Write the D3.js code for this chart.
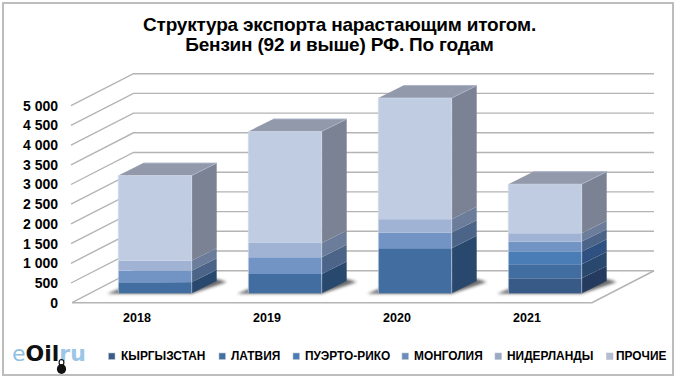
<!DOCTYPE html>
<html><head><meta charset="utf-8">
<script src="https://cdn.jsdelivr.net/npm/d3@7"></script>
<style>html,body{margin:0;padding:0;background:#fff}svg{display:block}text{font-family:"Liberation Sans",Arial,sans-serif}</style>
</head><body><svg id="c" width="680" height="384"></svg>
<script>
const titleLines = ["Структура экспорта нарастающим итогом.", "Бензин (92 и выше) РФ. По годам"];
const categories = ["2018", "2019", "2020", "2021"];
const seriesNames = ["КЫРГЫЗСТАН", "ЛАТВИЯ", "ПУЭРТО-РИКО", "МОНГОЛИЯ", "НИДЕРЛАНДЫ", "ПРОЧИЕ"];
const kyrgyzstan = [0, 0, 0, 381];
const latvia = [280, 490, 1144, 356];
const puertoRico = [0, 0, 0, 320];
const mongolia = [295, 425, 396, 255];
const netherlands = [255, 364, 341, 213];
const other = [2160, 2829, 3076, 1245];
const yTicks = [0, 500, 1000, 1500, 2000, 2500, 3000, 3500, 4000, 4500, 5000];
const frontColors = ["#375a87", "#416da1", "#4a7cb6", "#7194c5", "#a0b3d5", "#c0cce2"];
const sideColors = ["#243a5e", "#29486e", "#2e5181", "#4b6488", "#6b7d9a", "#7b8294"];
const legendColors = ["#3b5c88", "#43709f", "#4a7cb6", "#6a8cbc", "#9aa9c4", "#b4bdd0"];

const svg = d3.select("#c");
const defs = svg.append("defs");
defs.append("filter").attr("id", "blur").attr("x", "-30%").attr("y", "-60%").attr("width", "160%").attr("height", "220%")
  .append("feGaussianBlur").attr("stdDeviation", 1.6);
defs.append("filter").attr("id", "soft").append("feGaussianBlur").attr("stdDeviation", 0.35);

svg.append("rect").attr("x", 3).attr("y", 3).attr("width", 670).attr("height", 372)
  .attr("fill", "#fff").attr("stroke", "#bdbdbd").attr("stroke-width", 2);

svg.append("g").selectAll("text").data(titleLines).join("text")
  .attr("x", 339.5).attr("y", (d, i) => 31 + i * 20)
  .attr("text-anchor", "middle").attr("font-size", 19).attr("font-weight", 700)
  .attr("letter-spacing", -0.2).attr("fill", "#000").text(d => d);

// scales: front wall of the 3D box and the depth offsets
const yFront = d3.scaleLinear().domain([0, 5000]).range([302.7, 105.7]);
const x = d3.scaleBand().domain(categories).range([72, 592]);
const wallDx = 61.5, wallDy = -32, barShift = 18, barW = 73.4, depthDx = 25, depthDy = -12.4, barBaseDrop = -9.4;
const h = v => yFront(0) - yFront(v);

const grid = svg.append("g").attr("fill", "none").attr("stroke", "#b4b4b4").attr("stroke-width", 1.4).attr("filter", "url(#soft)");
yTicks.forEach(t => {
  const y0 = yFront(t);
  const pts = t === 0
    ? [[72, y0], [72 + wallDx, y0 + wallDy], [654, y0 + wallDy]]
    : [[71, y0], [72 + wallDx, y0 + wallDy], [654, y0 + wallDy]];
  grid.append("path").attr("d", d3.line()(pts));
});
grid.append("path").attr("d", d3.line()([[72, yFront(0)], [592, yFront(0)], [654, yFront(0) + wallDy]])).attr("stroke-width", 1.6);

const axisG = svg.append("g").attr("transform", "translate(61,0)")
  .call(d3.axisLeft(yFront).tickValues(yTicks).tickSize(0).tickPadding(3)
    .tickFormat(d => d3.format(",")(d).replace(",", " ")));
axisG.select(".domain").remove();
axisG.selectAll("text").attr("font-size", 14).attr("font-weight", 700).attr("fill", "#000")
  .attr("font-family", '"Liberation Sans",Arial,sans-serif').attr("dy", "0.32em");

const xAxis = svg.append("g").attr("transform", "translate(0,313)")
  .call(d3.axisBottom(x).tickSize(0).tickPadding(0));
xAxis.select(".domain").remove();
xAxis.selectAll("text").attr("font-size", 12.5).attr("font-weight", 700).attr("fill", "#000")
  .attr("font-family", '"Liberation Sans",Arial,sans-serif');

// stacked bars
const rows = categories.map((c, i) => ({ c, 0: kyrgyzstan[i], 1: latvia[i], 2: puertoRico[i], 3: mongolia[i], 4: netherlands[i], 5: other[i] }));
const stack = d3.stack().keys([0, 1, 2, 3, 4, 5])(rows);
const baseY = yFront(0) + barBaseDrop;
const barX = c => x(c) + x.bandwidth() / 2 + barShift - barW / 2;

const line = d3.line();
categories.forEach((c, i) => {
  const x0 = barX(c), x1 = x0 + barW;
  svg.append("path").attr("filter", "url(#blur)").attr("fill", "#444").attr("opacity", 0.8)
    .attr("d", line([[x0 - 11, baseY + 0.5], [x1, baseY + 0.5], [x1 + depthDx + 10, baseY + depthDy + 1], [x1 + depthDx, baseY + depthDy - 2], [x0, baseY - 4]]) + "Z");
  const total = d3.sum(stack, s => s[i][1] - s[i][0]);
  const g = svg.append("g");
  stack.forEach((s, k) => {
    const a = s[i][0], b = s[i][1];
    if (b - a <= 0) return;
    const yA = baseY - h(a), yB = baseY - h(b);
    g.append("path").attr("fill", sideColors[k])
      .attr("d", line([[x1, yA], [x1 + depthDx, yA + depthDy], [x1 + depthDx, yB + depthDy], [x1, yB]]) + "Z");
    g.append("rect").attr("x", x0).attr("y", yB).attr("width", barW).attr("height", yA - yB).attr("fill", frontColors[k]);
  });
  const yT = baseY - h(total);
  g.append("path").attr("fill", "#9299ab")
    .attr("d", line([[x0, yT], [x0 + depthDx, yT + depthDy], [x1 + depthDx, yT + depthDy], [x1, yT]]) + "Z");
  g.append("path").attr("fill", "none").attr("stroke", "#aab2c6").attr("stroke-width", 1)
    .attr("d", line([[x0 + depthDx, yT + depthDy], [x1 + depthDx, yT + depthDy], [x1, yT]]));
  g.append("path").attr("fill", "none").attr("stroke", "#d3dcec").attr("stroke-opacity", 0.6).attr("stroke-width", 1)
    .attr("d", line([[x0, baseY], [x0, yT], [x1, yT], [x1, baseY]]));
});

// legend
const legendMarkerX = [108.5, 219, 293, 402, 495, 606.5];
const legendTextX = [121, 231, 305, 414, 507, 616];
const legend = svg.append("g");
seriesNames.forEach((n, i) => {
  legend.append("rect").attr("x", legendMarkerX[i]).attr("y", 353).attr("width", 6.5).attr("height", 6.5)
    .attr("fill", legendColors[i]).attr("stroke", "#b9c1d0").attr("stroke-width", 0.6);
  legend.append("text").attr("x", legendTextX[i]).attr("y", 359.5).attr("font-size", 11.9).attr("font-weight", 700)
    .attr("fill", "#000").text(n);
});

// logo
const logo = svg.append("text").attr("x", 12).attr("y", 361).attr("font-size", 22)
  .attr("style", 'font-family:"DejaVu Sans",sans-serif');
logo.append("tspan").attr("fill", "#8fbfe3").text("e");
logo.append("tspan").attr("fill", "#111").attr("font-weight", 700).text("Oil");
logo.append("tspan").attr("fill", "#9cc6e6").attr("font-weight", 700).text("ru");
svg.append("ellipse").attr("cx", 61.5).attr("cy", 369).attr("rx", 4.6).attr("ry", 5).attr("fill", "#111");
svg.append("ellipse").attr("cx", 61.5).attr("cy", 362.5).attr("rx", 2.4).attr("ry", 3).attr("fill", "none").attr("stroke", "#111").attr("stroke-width", 1.2);
</script></body></html>
